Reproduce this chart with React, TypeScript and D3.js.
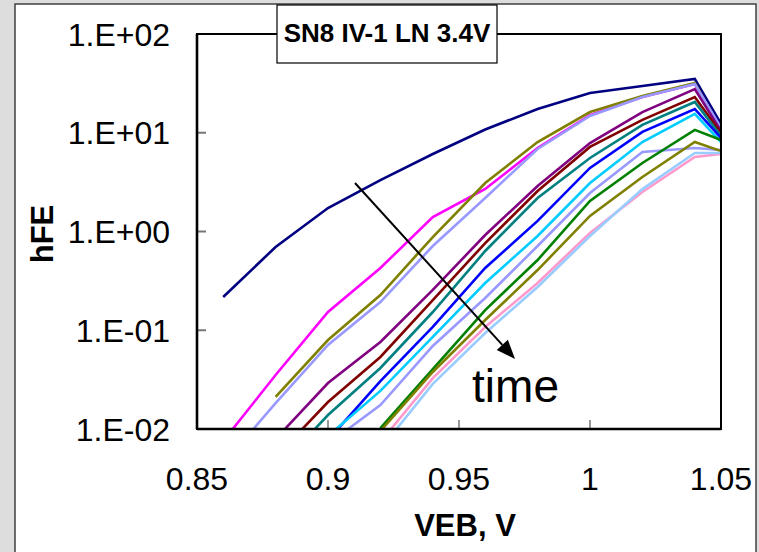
import React from "react";
import * as d3 from "d3";

const VEB = [0.86, 0.88, 0.9, 0.92, 0.94, 0.96, 0.98, 1.0, 1.02, 1.04, 1.05];

const sNavy = [0.217, 0.697, 1.73, 3.32, 6.09, 10.8, 17.4, 25.3, 29.7, 35.0, 12.3];
const sMagenta = [0.00755, 0.0352, 0.153, 0.427, 1.4, 2.7, 7.01, 15.1, 23.0, 31.2, 10.9];
const sOlive1 = [null, 0.0211, 0.0796, 0.2275, 0.879, 3.1, 8.06, 16.2, 23.6, 31.9, 10.7];
const sLavender1 = [0.00442, 0.0183, 0.071, 0.193, 0.713, 2.18, 6.85, 14.8, 23.0, 31.2, 11.2];
const sPurple = [null, 0.00792, 0.0292, 0.076, 0.256, 0.922, 2.89, 7.87, 16.2, 27.7, 10.4];
const sMaroon = [null, 0.0052, 0.01876, 0.0536, 0.202, 0.764, 2.57, 7.18, 13.5, 23.0, 9.94];
const sTeal = [null, 0.00376, 0.01386, 0.0415, 0.153, 0.635, 2.18, 5.55, 12.0, 20.5, 9.27];
const sBlue = [null, null, 0.00774, 0.0306, 0.108, 0.427, 1.28, 4.4, 10.2, 17.4, 8.85];
const sCyan = [null, null, 0.0085, 0.0243, 0.0855, 0.301, 0.9, 3.1, 8.06, 15.5, 8.06];
const sLavender2 = [null, null, 0.00705, 0.0175, 0.0693, 0.212, 0.713, 2.45, 6.38, 7.01, 6.69];
const sGreen = [null, null, null, 0.0102, 0.0405, 0.16, 0.514, 2.04, 4.94, 10.7, 8.45];
const sOlive2 = [null, null, null, 0.00955, 0.0378, 0.127, 0.407, 1.44, 3.56, 8.06, 6.53];
const sPink = [null, null, null, 0.00738, 0.0328, 0.108, 0.301, 0.966, 2.51, 5.68, 6.09];
const sLightBlue = [null, null, null, 0.00627, 0.0286, 0.0938, 0.274, 0.9, 2.69, 6.24, 6.24];

const seriesList: { values: (number | null)[]; color: string }[] = [
  { values: sNavy, color: "#000080" },
  { values: sMagenta, color: "#FF00FF" },
  { values: sOlive1, color: "#808000" },
  { values: sLavender1, color: "#9999FF" },
  { values: sPurple, color: "#800080" },
  { values: sMaroon, color: "#800000" },
  { values: sTeal, color: "#008080" },
  { values: sBlue, color: "#0000FF" },
  { values: sCyan, color: "#00CCFF" },
  { values: sLavender2, color: "#9999FF" },
  { values: sGreen, color: "#008000" },
  { values: sOlive2, color: "#808000" },
  { values: sPink, color: "#FF99CC" },
  { values: sLightBlue, color: "#99CCFF" },
];

const xTicks = [0.85, 0.9, 0.95, 1.0, 1.05];
const xTickLabels = ["0.85", "0.9", "0.95", "1", "1.05"];
const yTicks = [0.01, 0.1, 1, 10, 100];
const yTickLabels = ["1.E-02", "1.E-01", "1.E+00", "1.E+01", "1.E+02"];

const title = "SN8 IV-1 LN 3.4V";
const xTitle = "VEB, V";
const yTitle = "hFE";
const arrowStart = [0.9103, 3.1];
const arrowEnd = [0.9714, 0.0512];
const timeLabel = "time";
const timePos = [0.955, 0.0188];

const W = 759;
const H = 552;
const FONT = "'Liberation Sans', Arial, Helvetica, sans-serif";

export default function App() {
  const x = d3.scaleLinear().domain([0.85, 1.05]).range([197, 721]);
  const y = d3.scaleLog().domain([0.01, 100]).range([429, 34]);
  const [x0, x1] = x.range();
  const [y0, y1] = [y(100), y(0.01)];

  const line = d3
    .line<number | null>()
    .defined((d) => d !== null)
    .x((_, i) => x(VEB[i]))
    .y((d) => y(d as number));

  const ax = x(arrowStart[0]);
  const ay = y(arrowStart[1]);
  const bx = x(arrowEnd[0]);
  const by = y(arrowEnd[1]);
  const ang = Math.atan2(by - ay, bx - ax);
  const headLen = 19;
  const headHalf = 7.5;
  const hbx = bx - headLen * Math.cos(ang);
  const hby = by - headLen * Math.sin(ang);
  const px = -Math.sin(ang) * headHalf;
  const py = Math.cos(ang) * headHalf;

  return (
    <div style={{ position: "absolute", left: 0, top: 0 }}>
      <svg width={W} height={H} style={{ display: "block" }} fontFamily={FONT}>
        <rect x={0} y={0} width={W} height={H} fill="#dddddd" />
        <rect x={15} y={4} width={741} height={560} fill="#ffffff" stroke="#404040" strokeWidth={1.5} />
        <defs>
          <clipPath id="plotClip">
            <rect x={x0} y={y0} width={x1 - x0} height={y1 - y0} />
          </clipPath>
        </defs>
        <g clipPath="url(#plotClip)">
          {seriesList.map((s, i) => (
            <path
              key={i}
              d={line(s.values) || ""}
              fill="none"
              stroke={s.color}
              strokeWidth={2.6}
              strokeLinejoin="miter"
            />
          ))}
        </g>
        {/* ticks */}
        {yTicks.slice(1, -1).map((t, i) => (
          <line key={"yt" + i} x1={x0} x2={x0 + 9} y1={y(t)} y2={y(t)} stroke="#777" strokeWidth={2} />
        ))}
        {xTicks.slice(1, -1).map((t, i) => (
          <line key={"xt" + i} x1={x(t)} x2={x(t)} y1={y1} y2={y1 - 9} stroke="#777" strokeWidth={1.5} />
        ))}
        {/* frame */}
        <rect x={x0} y={y0} width={x1 - x0} height={y1 - y0} fill="none" stroke="#000" strokeWidth={2} />
        <line x1={x0} x2={x0} y1={y0} y2={y1} stroke="#000" strokeWidth={2.6} />
        <line x1={x0} x2={x1} y1={y1} y2={y1} stroke="#000" strokeWidth={2.6} />
        {/* tick labels */}
        {yTicks.map((t, i) => (
          <text key={"yl" + i} x={170} y={y(t) + 11.5} fontSize={32} textAnchor="end" fill="#000">
            {yTickLabels[i]}
          </text>
        ))}
        {xTicks.map((t, i) => (
          <text key={"xl" + i} x={x(t)} y={490} fontSize={32} textAnchor="middle" fill="#000">
            {xTickLabels[i]}
          </text>
        ))}
        {/* axis titles */}
        <text x={465} y={536} fontSize={31} fontWeight="bold" textAnchor="middle" fill="#000">
          {xTitle}
        </text>
        <text
          transform={`translate(53,234) rotate(-90)`}
          fontSize={31}
          fontWeight="bold"
          textAnchor="middle"
          fill="#000"
        >
          {yTitle}
        </text>
        {/* arrow annotation */}
        <line x1={ax} y1={ay} x2={hbx} y2={hby} stroke="#000" strokeWidth={2} />
        <polygon
          points={`${bx},${by} ${hbx + px},${hby + py} ${hbx - px},${hby - py}`}
          fill="#000"
        />
        <text x={x(timePos[0])} y={y(timePos[1])} fontSize={46} fill="#000">
          {timeLabel}
        </text>
        {/* title box */}
        <rect x={277} y={5} width={220} height={58} fill="#fff" stroke="#000" strokeWidth={1.2} />
        <text x={387} y={42} fontSize={26} fontWeight="bold" textAnchor="middle" fill="#000">
          {title}
        </text>
      </svg>
    </div>
  );
}
